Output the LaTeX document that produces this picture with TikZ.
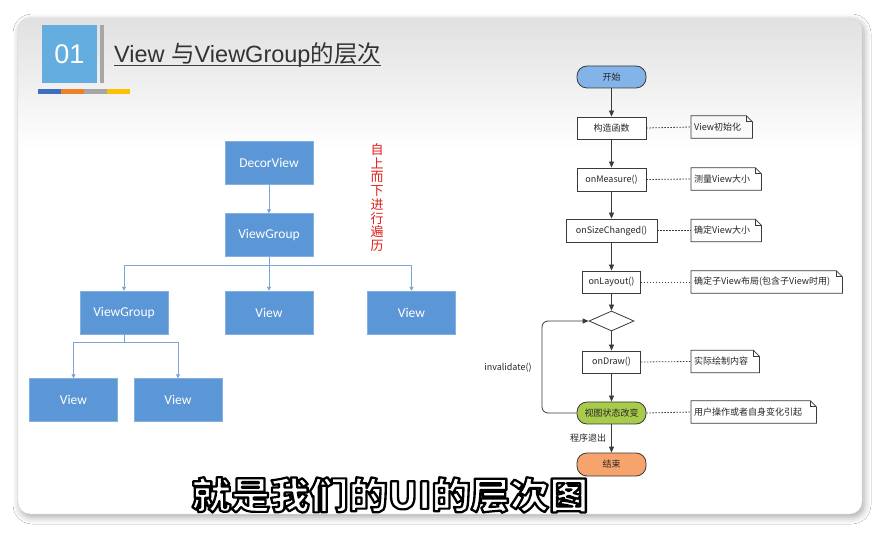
\documentclass[tikz,border=0pt]{standalone}
\usepackage{fontspec}
\setmainfont{Liberation Sans}
\newfontfamily\cjk{Noto Sans CJK SC}
\newfontfamily\boxfont{Carlito}
\usetikzlibrary{arrows.meta,shapes.geometric,shadows.blur,calc}

\definecolor{treeblue}{HTML}{5B97D6}
\definecolor{treeline}{HTML}{7AA6DA}
\definecolor{hdrblue}{HTML}{63AEDF}
\definecolor{startblue}{HTML}{82B4EA}
\definecolor{stategreen}{HTML}{A9CB4C}
\definecolor{endorange}{HTML}{F6A46C}
\definecolor{flowline}{HTML}{3A3A3A}
\definecolor{barblue}{HTML}{3C6FC2}
\definecolor{barorange}{HTML}{EE8027}
\definecolor{bargrey}{HTML}{A5A5A5}
\definecolor{baryellow}{HTML}{FFC000}
\definecolor{travred}{HTML}{E0201B}

% white glyphs stroked with a black outline (PDF text render mode 2)
\newcommand{\strokedtext}[1]{\special{pdf:code q 2 Tr 2.2 w 1 j 0 G}#1\special{pdf:code Q}}

\tikzset{
  tbox/.style={fill=treeblue, draw=treeblue!75!white, text=white,
    font=\boxfont\fontsize{13.5}{14}\selectfont,
    minimum width=88pt, minimum height=43pt, inner sep=0pt},
  tarrow/.style={draw=treeline, line width=0.9pt, -{Triangle[length=4pt,width=4pt]}},
  fbox/.style={draw=flowline, fill=white, line width=0.8pt, text=black!85,
    font=\cjk\fontsize{9}{10}\selectfont, minimum height=22pt, inner sep=0pt},
  pill/.style={fbox, rounded corners=10pt, minimum width=69pt},
  decision/.style={diamond, draw=flowline, fill=white, line width=0.8pt,
    minimum width=45pt, minimum height=20pt, inner sep=0pt},
  farrow/.style={draw=flowline, line width=0.8pt, -{Triangle[length=6pt,width=5pt]}},
  notebox/.style={anchor=west, text=black!85, font=\cjk\fontsize{9}{10}\selectfont,
    minimum height=22pt, inner xsep=3pt, inner ysep=0pt, align=left, text width=#1},
  noteline/.style={draw=flowline, line width=0.8pt},
  dotline/.style={draw=flowline, line width=0.8pt, dash pattern=on 1.4pt off 1.6pt},
  lbl/.style={text=black!85, font=\cjk\fontsize{9}{10}\selectfont, inner sep=2pt},
  subt/.style={font=\cjk\bfseries\fontsize{37}{40}\selectfont, xscale=1.06, inner sep=0pt}
}

\begin{document}
\begin{tikzpicture}[x=1pt,y=-1pt]
\useasboundingbox (0,0) rectangle (881,534);
\fill[white] (0,0) rectangle (881,534);

% slide card with drop shadow and a soft grey top gradient
\path[blur shadow={shadow xshift=2pt,shadow yshift=-3pt,shadow blur radius=7pt,shadow opacity=35},
      fill=white, rounded corners=12pt] (18,18) rectangle (862,514);
\begin{scope}
  \clip[rounded corners=12pt] (18,18) rectangle (862,514);
  \shade[top color=black!12, bottom color=white] (18,18) rectangle (862,150);
\end{scope}
\draw[black!15, rounded corners=12pt] (18,18) rectangle (862,514);

% header
\node[fill=hdrblue, text=white, minimum width=55pt, minimum height=58pt, inner sep=0pt,
      font=\fontsize{27}{27}\selectfont] (num) at (69.5,54) {01};
\node[fill=black!35, minimum width=4pt, minimum height=58pt, inner sep=0pt] (vbar) at (102,54) {};
\node[anchor=base west, inner sep=0pt, text=black!80, font=\fontsize{23.5}{23.5}\selectfont]
      (title) at (114,63) {View {\cjk 与}ViewGroup{\cjk 的层次}};
\draw[black!75, line width=1pt] ([yshift=-3pt]title.base west) -- ([yshift=-3pt]title.base east);
\fill[barblue]   (38,89) rectangle (61,94);
\fill[barorange] (61,89) rectangle (84,94);
\fill[bargrey]   (84,89) rectangle (107,94);
\fill[baryellow] (107,89) rectangle (130,94);

% view hierarchy tree
\node[tbox] (decor) at (269,162.5) {DecorView};
\node[tbox] (vg)    at (269,235)   {ViewGroup};
\node[tbox] (vg2)   at (124,312.5) {ViewGroup};
\node[tbox] (v1)    at (269,312.5) {View};
\node[tbox] (v2)    at (411.5,312.5) {View};
\node[tbox] (v3)    at (73.5,400)  {View};
\node[tbox] (v4)    at (178,400)   {View};

\coordinate (bus1) at (269,265);
\coordinate (bus2) at (124,342);
\draw[tarrow] (decor) -- (vg);
\draw[tarrow] (vg.south) -- (v1.north);
\draw[tarrow] (bus1) -| (vg2.north);
\draw[tarrow] (bus1) -| (v2.north);
\draw[tarrow] (vg2.south) -- (bus2) -| (v3.north);
\draw[tarrow] (bus2) -| (v4.north);

\node[text=travred, align=center, inner sep=0pt,
      font=\cjk\fontsize{13}{13.75}\selectfont] (trav) at (377,197.5)
      {自\\上\\而\\下\\进\\行\\遍\\历};

% view lifecycle flowchart
\node[pill, fill=startblue] (start) at (611.5,77) {开始};
\node[fbox, minimum width=69pt] (ctor) at (611.5,128) {构造函数};
\node[fbox, minimum width=69pt, minimum height=23pt] (meas) at (611.5,179.5) {onMeasure()};
\node[fbox, minimum width=91pt, minimum height=23pt] (sizech) at (611.5,230.5) {onSizeChanged()};
\node[fbox, minimum width=58pt] (layout) at (611.5,282) {onLayout()};
\node[decision] (dec) at (611.5,321) {};
\node[fbox, minimum width=58pt] (ondraw) at (611.5,362) {onDraw()};
\node[pill, fill=stategreen] (state) at (611.5,413) {视图状态改变};
\node[pill, fill=endorange, minimum height=23pt] (finish) at (611.5,464.5) {结束};

\draw[farrow] (start) -- (ctor);
\draw[farrow] (ctor) -- (meas);
\draw[farrow] (meas) -- (sizech);
\draw[farrow] (sizech) -- (layout);
\draw[farrow] (layout) -- (dec);
\draw[farrow] (dec) -- (ondraw);
\draw[farrow] (ondraw) -- (state);
\draw[farrow] (state) -- node[lbl, left, xshift=-3pt] {程序退出} (finish);

\coordinate (loopc) at (542,321);
\draw[farrow, rounded corners=6pt] (state.west) -| (loopc) -- (dec.west);
\node[lbl] (inval) at (508,368) {invalidate()};

% notes with folded corner
\node[notebox=55pt] (n1) at (691,127)   {View初始化};
\node[notebox=64pt] (n2) at (691,179)   {测量View大小};
\node[notebox=64pt] (n3) at (691,230.5) {确定View大小};
\node[notebox=145pt] (n4) at (691,282)  {确定子View布局(包含子View时用)};
\node[notebox=62pt] (n5) at (691,361.5) {实际绘制内容};
\node[notebox=119pt] (n6) at (691,412)  {用户操作或者自身变化引起};
\foreach \n in {n1,n2,n3,n4,n5,n6}{
  \draw[noteline] (\n.south west) -- (\n.north west)
    -- ([xshift=-6pt]\n.north east) -- ([yshift=-6pt]\n.north east) -- (\n.south east) -- cycle;
  \draw[noteline] ([xshift=-6pt]\n.north east) |- ([yshift=-6pt]\n.north east);
}
\draw[dotline] (ctor.east) -- (n1.west);
\draw[dotline] (meas.east) -- (n2.west);
\draw[dotline] (sizech.east) -- (n3.west);
\draw[dotline] (layout.east) -- (n4.west);
\draw[dotline] (ondraw.east) -- (n5.west);
\draw[dotline] (state.east) -- (n6.west);

% outlined caption
\node[subt, text=white] (caption) at (390,495) {\strokedtext{就是我们的UI的层次图}};
\end{tikzpicture}
\end{document}
